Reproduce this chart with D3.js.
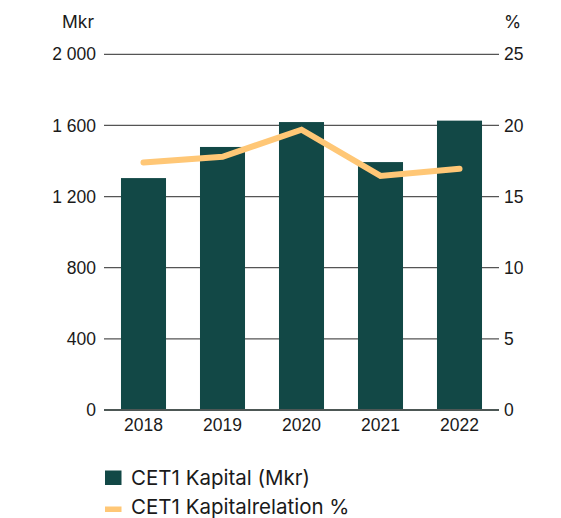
<!DOCTYPE html>
<html>
<head>
<meta charset="utf-8">
<script src="https://cdn.jsdelivr.net/npm/d3@7"></script>
<style>
	body { margin: 0; background: #fff; }
	svg { display: block; font-family: Inter, "Noto Sans", sans-serif; }
	.axis text { fill: #1a1a1a; font-size: 17.5px; }
</style>
</head>
<body>
<div id="chart"></div>
<script>
	// data
	var years = ["2018", "2019", "2020", "2021", "2022"];
	var kapital = [1304, 1479, 1619, 1394, 1627];       // Mkr
	var relation = [17.4, 17.8, 19.7, 16.45, 16.95];    // %
	var leftTicks = [0, 400, 800, 1200, 1600, 2000];
	var rightTicks = [0, 5, 10, 15, 20, 25];
	var legendLabels = ["CET1 Kapital (Mkr)", "CET1 Kapitalrelation %"];

	var width = 561, height = 518;
	var margin = { top: 54.3, left: 104, right: 62, bottom: 108 };
	var barColor = "#124846", lineColor = "#ffc776";

	var svg = d3.select("#chart").append("svg")
		.attr("width", width)
		.attr("height", height);

	var x = d3.scaleBand()
		.domain(years)
		.range([margin.left, width - margin.right])
		.paddingInner(0.43)
		.paddingOuter(0.215);

	var yLeft = d3.scaleLinear()
		.domain([0, 2000])
		.range([height - margin.bottom, margin.top]);

	var yRight = d3.scaleLinear()
		.domain([0, 25])
		.range([height - margin.bottom, margin.top]);

	var fmt = function(d) { return d3.format(",")(d).replace(/,/g, " "); };

	// gridlines
	svg.append("g")
		.selectAll("line")
		.data(leftTicks.slice(1))
		.enter().append("line")
		.attr("x1", margin.left)
		.attr("x2", width - margin.right)
		.attr("y1", function(d) { return yLeft(d); })
		.attr("y2", function(d) { return yLeft(d); })
		.attr("stroke", "#555")
		.attr("stroke-width", 1.2);

	// left axis labels
	var left = svg.append("g")
		.attr("class", "axis")
		.attr("transform", "translate(" + margin.left + ",0)")
		.call(d3.axisLeft(yLeft).tickValues(leftTicks).tickFormat(fmt).tickSize(0).tickPadding(8));
	left.select(".domain").remove();

	// right axis labels
	var right = svg.append("g")
		.attr("class", "axis")
		.attr("transform", "translate(" + (width - margin.right) + ",0)")
		.call(d3.axisRight(yRight).tickValues(rightTicks).tickSize(0).tickPadding(5));
	right.select(".domain").remove();

	svg.selectAll(".axis text").attr("font-family", null);

	// unit labels
	svg.append("text")
		.attr("x", 94).attr("y", 28)
		.attr("text-anchor", "end")
		.attr("font-size", "17.5px")
		.attr("fill", "#1a1a1a")
		.text("Mkr");
	svg.append("text")
		.attr("x", width - margin.right + 5).attr("y", 28)
		.attr("font-size", "17.5px")
		.attr("fill", "#1a1a1a")
		.text("%");

	// bars
	svg.append("g")
		.selectAll("rect")
		.data(kapital)
		.enter().append("rect")
		.attr("x", function(d, i) { return x(years[i]); })
		.attr("width", x.bandwidth())
		.attr("y", function(d) { return yLeft(d); })
		.attr("height", function(d) { return yLeft(0) - yLeft(d); })
		.attr("fill", barColor);

	// baseline
	svg.append("line")
		.attr("x1", margin.left)
		.attr("x2", width - margin.right)
		.attr("y1", yLeft(0))
		.attr("y2", yLeft(0))
		.attr("stroke", "#4d5755")
		.attr("stroke-width", 2);

	// x axis labels
	var bottom = svg.append("g")
		.attr("class", "axis")
		.attr("transform", "translate(0," + yLeft(0) + ")")
		.call(d3.axisBottom(x).tickSize(0).tickPadding(9));
	bottom.select(".domain").remove();
	bottom.selectAll("text").attr("font-family", null);

	// line
	var line = d3.line()
		.x(function(d, i) { return x(years[i]) + x.bandwidth() / 2; })
		.y(function(d) { return yRight(d); });

	svg.append("path")
		.datum(relation)
		.attr("d", line)
		.attr("fill", "none")
		.attr("stroke", lineColor)
		.attr("stroke-width", 6)
		.attr("stroke-linecap", "round")
		.attr("stroke-linejoin", "miter");

	// legend
	var legend = svg.append("g").attr("transform", "translate(105,0)");
	legend.append("rect")
		.attr("x", 0).attr("y", 470.5)
		.attr("width", 16.5).attr("height", 14.5)
		.attr("fill", barColor);
	legend.append("rect")
		.attr("x", 0).attr("y", 506.5)
		.attr("width", 16.5).attr("height", 5.5)
		.attr("fill", lineColor);
	legend.selectAll("text")
		.data(legendLabels)
		.enter().append("text")
		.attr("x", 26)
		.attr("y", function(d, i) { return 485 + i * 29; })
		.attr("font-size", "20.5px")
		.attr("fill", "#1a1a1a")
		.text(function(d) { return d; });
</script>
</body>
</html>
